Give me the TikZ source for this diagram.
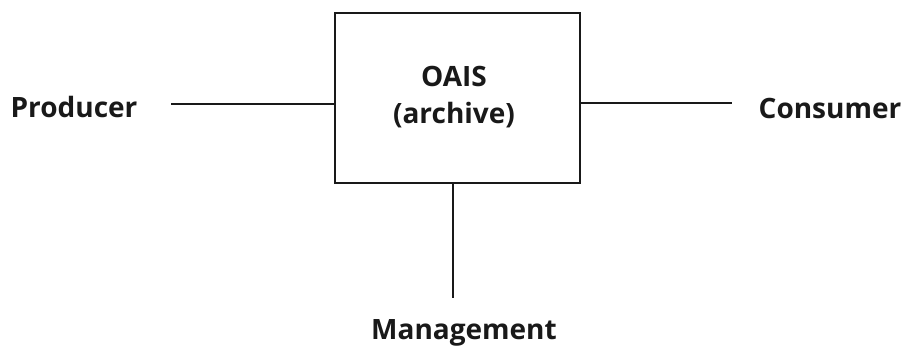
\documentclass[tikz,border=0pt]{standalone}
\usepackage{fontspec}
\setmainfont{Open Sans}
\begin{document}
\begin{tikzpicture}[x=1pt,y=-1pt,
  lbl/.style={font=\bfseries\fontsize{28}{32}\selectfont, text=black!90, inner sep=0pt, anchor=base},
  conn/.style={line width=2pt, black!90}]
\useasboundingbox (0,0) rectangle (905,348);
\node[draw=black!90, line width=2pt, minimum width=245pt, minimum height=170.5pt, inner sep=0pt] (oais) at (457.8,98) {};
\node[lbl] (t1) at (454,86) {OAIS};
\node[lbl] (t2) at (454,123) {(archive)};
\node[lbl] (prod) at (74,117) {Producer};
\node[lbl] (cons) at (830,118) {Consumer};
\node[lbl] (mgmt) at (464,339) {Management};
\coordinate (pe) at (171,104);
\coordinate (ce) at (732,102.5);
\coordinate (me) at (452.5,298);
\draw[conn] (pe) -- (oais.west |- pe);
\draw[conn] (oais.east |- ce) -- (ce);
\draw[conn] (oais.south -| me) -- (me);
\end{tikzpicture}
\end{document}
